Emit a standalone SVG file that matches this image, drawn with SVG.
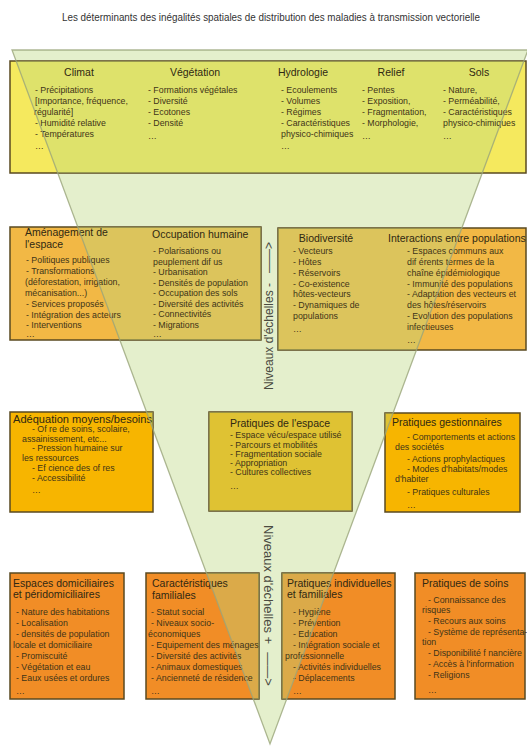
<svg xmlns="http://www.w3.org/2000/svg" width="527" height="746" viewBox="0 0 527 746">
<defs>
<clipPath id="triClip"><polygon points="12,50 528,50 270,744"/></clipPath>
</defs>
<style>
text{font-family:"Liberation Sans",Arial,sans-serif;}
.box{stroke:#5a4a20;stroke-width:1.5}
.y{fill:#f5e95e}
.o1{fill:#f2b845}
.o2{fill:#f7b500}
.o3{fill:#f18d26}
.tint{fill:#bcd680;fill-opacity:0.4}
.t{font-size:10.5px;fill:#2f2812}
.i{font-size:8.8px;fill:#3e3418}
.tc{text-anchor:middle}
.trifill{fill:#bcd680;fill-opacity:0.4;stroke:none}
.triline{fill:none;stroke:#9aa57a;stroke-width:1.3;stroke-opacity:0.8}
.axis{fill:#4a4a40}
</style>
<rect width="527" height="746" fill="#ffffff"/>
<text x="62" y="21" font-size="10" fill="#333" textLength="418" lengthAdjust="spacingAndGlyphs">Les déterminants des inégalités spatiales de distribution des maladies à transmission vectorielle</text>

<g id="echelle-fond">
<polygon class="trifill" points="12,50 528,50 270,744"/>
</g>

<g id="facteurs-physiques">
<rect class="box y" x="10" y="61" width="516" height="112"/>
<rect class="tint" clip-path="url(#triClip)" x="10" y="61" width="516" height="112"/>
<g id="climat">
<text class="t tc" x="79" y="76">Climat</text>
<text class="i"><tspan x="35" y="93">- Précipitations</tspan><tspan x="35" y="104">[Importance, fréquence,</tspan><tspan x="34" y="115">régularité]</tspan><tspan x="35" y="126">- Humidité relative</tspan><tspan x="35" y="137">- Températures</tspan><tspan x="35" y="149">…</tspan></text>
</g>
<g id="vegetation">
<text class="t tc" x="195" y="76">Végétation</text>
<text class="i"><tspan x="148" y="93">- Formations végétales</tspan><tspan x="148" y="104">- Diversité</tspan><tspan x="148" y="115">- Ecotones</tspan><tspan x="148" y="126">- Densité</tspan><tspan x="148" y="139">…</tspan></text>
</g>
<g id="hydrologie">
<text class="t tc" x="303" y="76">Hydrologie</text>
<text class="i"><tspan x="281" y="93">- Ecoulements</tspan><tspan x="281" y="104">- Volumes</tspan><tspan x="281" y="115">- Régimes</tspan><tspan x="281" y="126">- Caractéristiques</tspan><tspan x="281" y="137">physico-chimiques</tspan><tspan x="281" y="149">…</tspan></text>
</g>
<g id="relief">
<text class="t tc" x="391" y="76">Relief</text>
<text class="i"><tspan x="362" y="93">- Pentes</tspan><tspan x="362" y="104">- Exposition,</tspan><tspan x="362" y="115">- Fragmentation,</tspan><tspan x="362" y="126">- Morphologie,</tspan><tspan x="362" y="139">…</tspan></text>
</g>
<g id="sols">
<text class="t tc" x="479" y="76">Sols</text>
<text class="i"><tspan x="443" y="93">- Nature,</tspan><tspan x="443" y="104">- Perméabilité,</tspan><tspan x="443" y="115">- Caractéristiques</tspan><tspan x="443" y="126">physico-chimiques</tspan><tspan x="443" y="139">…</tspan></text>
</g>
</g>

<g id="amenagement-occupation">
<rect class="box o1" x="10" y="227" width="251" height="113"/>
<rect class="tint" clip-path="url(#triClip)" x="10" y="227" width="251" height="113"/>
<g id="amenagement">
<text class="t" font-size="10"><tspan x="25" y="236">Aménagement de</tspan><tspan x="25" y="248">l'espace</tspan></text>
<text class="i"><tspan x="26" y="263">- Politiques publiques</tspan><tspan x="26" y="274">- Transformations</tspan><tspan x="25" y="285">(déforestation, irrigation,</tspan><tspan x="25" y="296">mécanisation...)</tspan><tspan x="26" y="307">- Services proposés</tspan><tspan x="26" y="318">- Intégration des acteurs</tspan><tspan x="26" y="328">- Interventions</tspan><tspan x="26" y="337">…</tspan></text>
</g>
<g id="occupation">
<text class="t" x="152" y="238">Occupation humaine</text>
<text class="i"><tspan x="153" y="254">- Polarisations ou</tspan><tspan x="153" y="264.5">peuplement dif us</tspan><tspan x="153" y="275">- Urbanisation</tspan><tspan x="153" y="285.5">- Densités de population</tspan><tspan x="153" y="296">- Occupation des sols</tspan><tspan x="153" y="306.5">- Diversité des activités</tspan><tspan x="153" y="317">- Connectivités</tspan><tspan x="153" y="327.5">- Migrations</tspan><tspan x="153" y="337">…</tspan></text>
</g>
</g>

<g id="biodiversite-interactions">
<rect class="box o1" x="278" y="228" width="248" height="122"/>
<rect class="tint" clip-path="url(#triClip)" x="278" y="228" width="248" height="122"/>
<g id="biodiversite">
<text class="t tc" x="326" y="242">Biodiversité</text>
<text class="i"><tspan x="293" y="254">- Vecteurs</tspan><tspan x="293" y="265">- Hôtes</tspan><tspan x="293" y="276">- Réservoirs</tspan><tspan x="293" y="287">- Co-existence</tspan><tspan x="293" y="297">hôtes-vecteurs</tspan><tspan x="293" y="308">- Dynamiques de</tspan><tspan x="293" y="319">populations</tspan><tspan x="293" y="332">…</tspan></text>
</g>
<g id="interactions">
<text class="t" x="388" y="242">Interactions entre populations</text>
<text class="i" font-size="8.6"><tspan x="407" y="254">- Espaces communs aux</tspan><tspan x="407" y="265">dif érents termes de la</tspan><tspan x="407" y="276">chaîne épidémiologique</tspan><tspan x="407" y="287">- Immunité des populations</tspan><tspan x="407" y="297">- Adaptation des vecteurs et</tspan><tspan x="407" y="308">des hôtes/réservoirs</tspan><tspan x="407" y="319">- Evolution des populations</tspan><tspan x="407" y="330">infectieuses</tspan><tspan x="407" y="343">…</tspan></text>
</g>
</g>

<g id="adequation">
<rect class="box o2" x="10" y="412" width="143" height="100"/>
<rect class="tint" clip-path="url(#triClip)" x="10" y="412" width="143" height="100"/>
<text class="t" x="13" y="423" textLength="139" lengthAdjust="spacingAndGlyphs">Adéquation moyens/besoins</text>
<text class="i" font-size="8.6"><tspan x="32" y="432">- Of re de soins, scolaire,</tspan><tspan x="22" y="442">assainissement, etc...</tspan><tspan x="32" y="451">- Pression humaine sur</tspan><tspan x="22" y="461">les ressources</tspan><tspan x="32" y="471">- Ef  cience des of res</tspan><tspan x="32" y="481">- Accessibilité</tspan><tspan x="32" y="493">…</tspan></text>
</g>

<g id="pratiques-espace">
<rect class="box o2" x="209" y="412" width="143" height="99"/>
<rect class="tint" clip-path="url(#triClip)" x="209" y="412" width="143" height="99"/>
<text class="t" x="230" y="427">Pratiques de l'espace</text>
<text class="i" font-size="8.5"><tspan x="230" y="438">- Espace vécu/espace utilisé</tspan><tspan x="230" y="448">- Parcours et mobilités</tspan><tspan x="230" y="457">- Fragmentation sociale</tspan><tspan x="230" y="466">- Appropriation</tspan><tspan x="230" y="475">- Cultures collectives</tspan><tspan x="230" y="489">…</tspan></text>
</g>

<g id="pratiques-gestionnaires">
<rect class="box o2" x="385" y="413" width="135" height="99"/>
<rect class="tint" clip-path="url(#triClip)" x="385" y="413" width="135" height="99"/>
<text class="t" x="392" y="426">Pratiques gestionnaires</text>
<text class="i" font-size="8.5"><tspan x="407" y="440">- Comportements et actions</tspan><tspan x="395" y="450">des sociétés</tspan><tspan x="407" y="462">- Actions prophylactiques</tspan><tspan x="407" y="472">- Modes d'habitats/modes</tspan><tspan x="395" y="482">d'habiter</tspan><tspan x="407" y="495">- Pratiques culturales</tspan><tspan x="407" y="508">…</tspan></text>
</g>

<g id="espaces-domiciliaires">
<rect class="box o3" x="10" y="573" width="114" height="126"/>
<text class="t"><tspan x="13" y="587">Espaces domiciliaires</tspan><tspan x="13" y="598">et péridomiciliaires</tspan></text>
<text class="i" font-size="8.6"><tspan x="16" y="615">- Nature des habitations</tspan><tspan x="16" y="626">- Localisation</tspan><tspan x="16" y="637">- densités de population</tspan><tspan x="13" y="648">locale et domiciliaire</tspan><tspan x="16" y="659">- Promiscuité</tspan><tspan x="16" y="670">- Végétation et eau</tspan><tspan x="16" y="681">- Eaux usées et ordures</tspan><tspan x="16" y="694">…</tspan></text>
</g>

<g id="caracteristiques-familiales">
<rect class="box o3" x="146" y="573" width="113" height="126"/>
<rect class="tint" clip-path="url(#triClip)" x="146" y="573" width="113" height="126"/>
<text class="t"><tspan x="152" y="587">Caractéristiques</tspan><tspan x="152" y="599">familiales</tspan></text>
<text class="i" font-size="8.6"><tspan x="151" y="615">- Statut social</tspan><tspan x="151" y="626">- Niveaux socio-</tspan><tspan x="148" y="637">économiques</tspan><tspan x="151" y="648">- Equipement des ménages</tspan><tspan x="151" y="659">- Diversité des activités</tspan><tspan x="151" y="670">- Animaux domestiques</tspan><tspan x="151" y="681">- Ancienneté de résidence</tspan><tspan x="151" y="694">…</tspan></text>
</g>

<g id="pratiques-individuelles">
<rect class="box o3" x="282" y="573" width="113" height="126"/>
<rect class="tint" clip-path="url(#triClip)" x="282" y="573" width="113" height="126"/>
<text class="t"><tspan x="287" y="587">Pratiques individuelles</tspan><tspan x="287" y="598">et familiales</tspan></text>
<text class="i" font-size="8.6"><tspan x="293" y="615">- Hygiène</tspan><tspan x="293" y="626">- Prévention</tspan><tspan x="293" y="637">- Education</tspan><tspan x="293" y="648">- Intégration sociale et</tspan><tspan x="285" y="659">professionnelle</tspan><tspan x="293" y="670">- Activités individuelles</tspan><tspan x="293" y="681">- Déplacements</tspan><tspan x="293" y="694">…</tspan></text>
</g>

<g id="pratiques-soins">
<rect class="box o3" x="415" y="573" width="110" height="126"/>
<text class="t" x="422" y="587">Pratiques de soins</text>
<text class="i" font-size="8.6"><tspan x="428" y="603">- Connaissance des</tspan><tspan x="422" y="613">risques</tspan><tspan x="428" y="624">- Recours aux soins</tspan><tspan x="428" y="635">- Système de représenta-</tspan><tspan x="422" y="645">tion</tspan><tspan x="428" y="656">- Disponibilité f nancière</tspan><tspan x="428" y="667">- Accès à l'information</tspan><tspan x="428" y="678">- Religions</tspan><tspan x="428" y="693">…</tspan></text>
</g>

<g id="echelle">
<polygon class="triline" points="12,50 528,50 270,744"/>
<text class="axis" font-size="12" x="273" y="390" transform="rotate(-90 273 390)">Niveaux d'échelles -<tspan dx="10">——&gt;</tspan></text>
<text class="axis" font-size="13" x="264" y="525" transform="rotate(90 264 525)">Niveaux d'échelles +<tspan dx="8">——&gt;</tspan></text>
</g>
</svg>
